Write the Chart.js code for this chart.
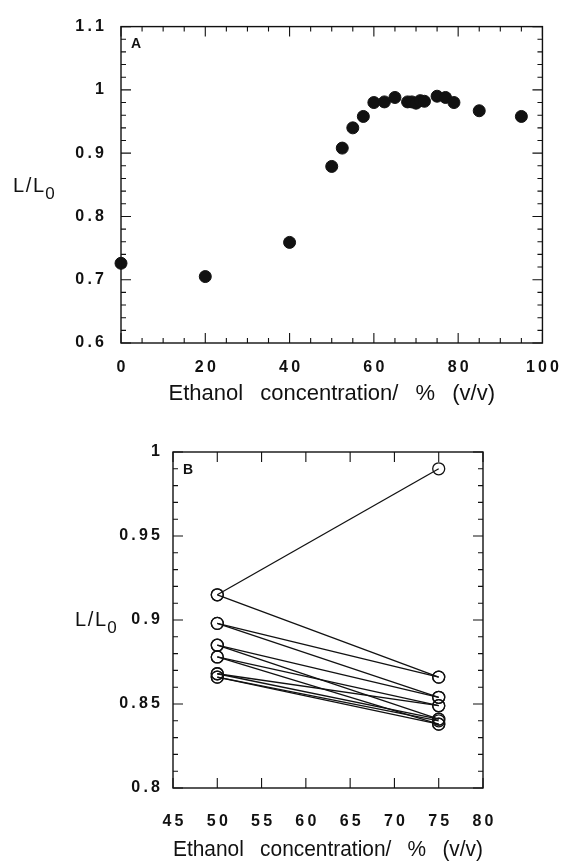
<!DOCTYPE html>
<html>
<head>
<meta charset="utf-8">
<script src="https://cdn.jsdelivr.net/npm/chart.js@4.4.1/dist/chart.umd.min.js"></script>
<style>
  body { margin: 0; background: #fff; }
  .panel { position: absolute; left: 0; width: 574px; }
  #boxA { top: 0; height: 410px; }
  #boxB { top: 410px; height: 455px; }
</style>
</head>
<body>
<div class="panel" id="boxA"><canvas id="chartA"></canvas></div>
<div class="panel" id="boxB"><canvas id="chartB"></canvas></div>
<script>
// panel A: L/L0 vs ethanol concentration
const concA = [0, 20, 40, 50, 52.5, 55, 57.5, 60, 62.5, 65, 68, 69, 70, 71, 72, 75, 77, 79, 85, 95];
const ratioA = [0.726, 0.705, 0.759, 0.879, 0.908, 0.940, 0.958, 0.980, 0.981, 0.988, 0.981, 0.981, 0.979, 0.983, 0.982, 0.990, 0.988, 0.980, 0.967, 0.958];

// panel B: paired measurements at 50% and 75%
const concB = [50, 75];
const ratioAt50 = [0.915, 0.915, 0.898, 0.898, 0.885, 0.885, 0.878, 0.878, 0.868, 0.868, 0.866, 0.866];
const ratioAt75 = [0.990, 0.866, 0.866, 0.854, 0.854, 0.841, 0.849, 0.838, 0.849, 0.841, 0.840, 0.838];

const xTitle = 'Ethanol\u2002 concentration/\u2002 %\u2002 (v/v)';

Chart.defaults.font.family = "'Liberation Sans', Arial, sans-serif";
Chart.defaults.color = '#111';

const spaced = s => String(s).split('').join('\u2009');

const frame = {
  id: 'frame',
  afterDraw(chart, args, o) {
    const { ctx, chartArea: a, scales } = chart;
    ctx.save();
    ctx.strokeStyle = '#111';
    ctx.lineWidth = 1.4;
    ctx.strokeRect(a.left, a.top, a.right - a.left, a.bottom - a.top);

    ctx.lineWidth = 1.1;
    ctx.beginPath();
    const marks = (scale, step, len, horiz) => {
      if (!step) return;
      const n = Math.round((scale.max - scale.min) / step);
      for (let i = 0; i <= n; i++) {
        const p = scale.getPixelForValue(scale.min + i * step);
        if (horiz) {
          ctx.moveTo(p, a.bottom); ctx.lineTo(p, a.bottom - len);
          ctx.moveTo(p, a.top); ctx.lineTo(p, a.top + len);
        } else {
          ctx.moveTo(a.left, p); ctx.lineTo(a.left + len, p);
          ctx.moveTo(a.right, p); ctx.lineTo(a.right - len, p);
        }
      }
    };
    marks(scales.x, o.xMinor, 5, true);
    marks(scales.x, o.xMajor, 10, true);
    marks(scales.y, o.yMinor, 5, false);
    marks(scales.y, o.yMajor, 10, false);
    ctx.stroke();

    ctx.fillStyle = '#111';
    ctx.textAlign = 'left';
    ctx.textBaseline = 'middle';
    ctx.font = "bold 14px 'Liberation Sans'";
    ctx.fillText(o.letter, a.left + 10, a.top + 18);

    const cy = (a.top + a.bottom) / 2 + o.titleDy;
    ctx.font = "20px 'Liberation Sans'";
    const main = 'L\u200A/\u200AL';
    ctx.fillText(main, o.titleX, cy);
    const w = ctx.measureText(main).width;
    ctx.font = "17px 'Liberation Sans'";
    ctx.fillText('0', o.titleX + w + 1, cy + 8);
    ctx.restore();
  }
};

function axes(xr, yr, dims) {
  return {
    x: {
      type: 'linear', min: xr[0], max: xr[1],
      grid: { display: false, drawTicks: false },
      border: { display: false },
      ticks: { stepSize: xr[2], padding: dims.xPad, font: { size: 16, weight: 'bold' }, callback: v => spaced(v) },
      title: { display: true, text: xTitle, font: { size: 22 }, padding: { top: 0, bottom: dims.titlePad } },
      afterFit: s => { s.height = dims.xHeight; }
    },
    y: {
      min: yr[0], max: yr[1],
      grid: { display: false, drawTicks: false },
      border: { display: false },
      ticks: { stepSize: yr[2], padding: dims.yPad, font: { size: 16, weight: 'bold' }, callback: v => spaced(+v.toFixed(2)) },
      afterFit: s => { s.width = dims.yWidth; }
    }
  };
}

new Chart(document.getElementById('chartA'), {
  type: 'scatter',
  data: {
    datasets: [{
      data: concA.map((c, i) => ({ x: c, y: ratioA[i] })),
      pointRadius: 6,
      pointBackgroundColor: '#111',
      pointBorderColor: '#111',
      clip: false
    }]
  },
  options: {
    responsive: true,
    maintainAspectRatio: false,
    animation: false,
    layout: { padding: { top: 23, right: 23, left: 0, bottom: 0 } },
    plugins: {
      legend: { display: false },
      tooltip: { enabled: false },
      frame: { letter: 'A', xMajor: 20, xMinor: 5, yMajor: 0.1, yMinor: 0.02, titleX: 13, titleDy: 2 }
    },
    scales: axes([0, 100, 20], [0.6, 1.1, 0.1], { xPad: 15, xHeight: 67, titlePad: 3, yPad: 17, yWidth: 121 })
  },
  plugins: [frame]
});

new Chart(document.getElementById('chartB'), {
  type: 'scatter',
  data: {
    datasets: ratioAt50.map((r, i) => ({
      data: [{ x: concB[0], y: r }, { x: concB[1], y: ratioAt75[i] }],
      showLine: true,
      borderColor: '#111',
      borderWidth: 1.3,
      pointRadius: 6,
      pointBorderWidth: 1.3,
      pointBackgroundColor: 'rgba(0,0,0,0)',
      pointBorderColor: '#111',
      clip: false
    }))
  },
  options: {
    responsive: true,
    maintainAspectRatio: false,
    animation: false,
    layout: { padding: { top: 42, right: 91, left: 0, bottom: 0 } },
    plugins: {
      legend: { display: false },
      tooltip: { enabled: false },
      frame: { letter: 'B', xMajor: 5, xMinor: 0, yMajor: 0.05, yMinor: 0.01, titleX: 75, titleDy: 0 }
    },
    scales: axes([45, 80, 5], [0.8, 1, 0.05], { xPad: 24, xHeight: 77, titlePad: 2, yPad: 13, yWidth: 173 })
  },
  plugins: [frame]
});
</script>
</body>
</html>
